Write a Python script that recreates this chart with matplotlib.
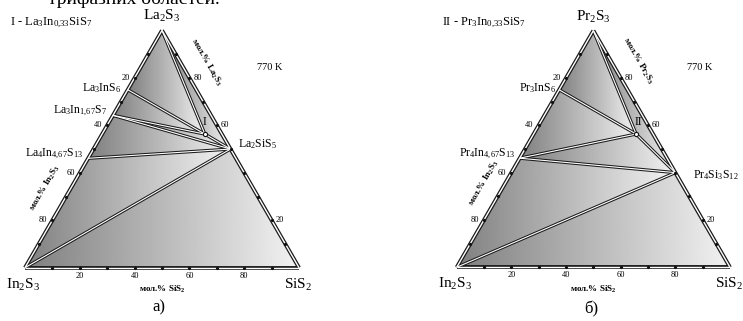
import numpy as np
import matplotlib
matplotlib.use("Agg")
import matplotlib.pyplot as plt
from matplotlib.patches import Polygon

plt.rcParams['font.family'] = ['Liberation Serif', 'DejaVu Serif']
plt.rcParams['mathtext.fontset'] = 'custom'
plt.rcParams['mathtext.rm'] = 'Liberation Serif'
plt.rcParams['mathtext.it'] = 'Liberation Serif'
plt.rcParams['mathtext.bf'] = 'Liberation Serif:bold'

# ---------- DATA (mol.%: In2S3, SiS2, R2S3) ----------
names_a = ['In$_2$S$_3$', 'SiS$_2$', 'La$_2$S$_3$', 'La$_3$InS$_6$',
           'La$_3$In$_{1{,}67}$S$_7$', 'La$_4$In$_{4{,}67}$S$_{13}$',
           'La$_2$SiS$_5$', 'I']
in2s3_a = [100, 0, 0, 25, 35.8, 53.9, 0, 6.2]
sis2_a = [0, 100, 0, 0, 0, 0, 50, 37.5]
r2s3_a = [0, 0, 100, 75, 64.2, 46.1, 50, 56.3]
ties_a = [(2, 7), (7, 6), (3, 7), (4, 7), (4, 6), (5, 6), (0, 6)]
regions_a = [(2, 3, 7), (2, 7, 6), (3, 4, 7), (4, 7, 6), (4, 5, 6), (5, 0, 6), (0, 6, 1)]

names_b = ['In$_2$S$_3$', 'SiS$_2$', 'Pr$_2$S$_3$', 'Pr$_3$InS$_6$',
           'Pr$_4$In$_{4{,}67}$S$_{13}$', 'Pr$_4$Si$_3$S$_{12}$', 'II']
in2s3_b = [100, 0, 0, 25, 53.9, 0, 6.2]
sis2_b = [0, 100, 0, 0, 0, 60, 37.5]
r2s3_b = [0, 0, 100, 75, 46.1, 40, 56.3]
ties_b = [(2, 6), (3, 6), (4, 6), (6, 5), (4, 5), (0, 5)]
regions_b = [(2, 3, 6), (2, 6, 5), (3, 4, 6), (4, 6, 5), (4, 0, 5), (0, 5, 1)]

bottom_ticks = [20, 40, 60, 80]
left_ticks = [20, 40, 60, 80]
right_ticks = [80, 60, 20]

fig = plt.figure(figsize=(7.43, 3.21), dpi=100)
ax = fig.add_axes([0, 0, 1, 1])


def make_tern(x0, y0, side):
    h = side * np.sqrt(3) / 2

    def tern(i, s, r):
        return x0 + (s + 0.5 * r) / 100 * side, y0 - r / 100 * h
    return tern


def double_line(p, q, lw=2.3, inner=0.8):
    ax.plot([p[0], q[0]], [p[1], q[1]], color='#1a1a1a', lw=lw,
            solid_capstyle='butt', zorder=4)
    ax.plot([p[0], q[0]], [p[1], q[1]], color='white', lw=inner,
            solid_capstyle='butt', zorder=5)


def draw_panel(tern, names, ins, sis, rs, ties, regions, label_off, tag,
               title, title_xy, temp_xy, sub_xy, ax_in_xy, ax_r_xy, rname):
    pts = [tern(i, s, r) for i, s, r in zip(ins, sis, rs)]

    # shaded phase fields, horizontal gradient in each one
    for reg in regions:
        poly = [pts[k] for k in reg]
        xs = [p[0] for p in poly]
        ys = [p[1] for p in poly]
        patch = Polygon(poly, closed=True, facecolor='none', edgecolor='none')
        ax.add_patch(patch)
        grad = np.linspace(0.5, 0.95, 256)[None, :]
        im = ax.imshow(grad, extent=[min(xs), max(xs), max(ys), min(ys)],
                       cmap='gray', vmin=0, vmax=1, aspect='auto',
                       interpolation='bilinear', zorder=1)
        im.set_clip_path(patch)

    for a, b in ties:
        double_line(pts[a], pts[b])

    corners = [pts[0], pts[1], pts[2], pts[0]]
    for p, q in zip(corners[:-1], corners[1:]):
        double_line(p, q, lw=2.8, inner=1.0)

    # edge ticks
    for t in range(10, 100, 10):
        for p in [tern(100 - t, t, 0), tern(t, 0, 100 - t), tern(0, 100 - t, t)]:
            ax.plot(p[0], p[1], 'o', ms=1.3, color='#111111', zorder=6)

    for t in bottom_ticks:
        x, y = tern(100 - t, t, 0)
        ax.text(x, y + 8, str(t), fontsize=6, ha='center', va='center')
    for t in left_ticks:
        x, y = tern(t, 0, 100 - t)
        ax.text(x - 5, y, str(t), fontsize=6, ha='right', va='center')
    for t in right_ticks:
        x, y = tern(0, 100 - t, t)
        ax.text(x + 4, y, str(t), fontsize=6, ha='left', va='center')

    # corner labels
    ax.text(pts[0][0] - 2, pts[0][1] + 17, names[0], fontsize=11, ha='center', va='center')
    ax.text(pts[1][0] - 1, pts[1][1] + 17, names[1], fontsize=11, ha='center', va='center')
    ax.text(pts[2][0], pts[2][1] - 14, names[2], fontsize=11, ha='center', va='center')

    # compound labels
    for k, (dx, dy, ha) in label_off.items():
        ax.text(pts[k][0] + dx, pts[k][1] + dy, names[k], fontsize=8.5,
                ha=ha, va='center')

    # invariant point marker
    ip = pts[-1]
    ax.plot(ip[0], ip[1], 'o', ms=3, mfc='white', mec='#111111', mew=0.8, zorder=7)

    ax.text(title_xy[0], title_xy[1], title, fontsize=9, ha='left', va='center')
    ax.text(temp_xy[0], temp_xy[1], '770 K', fontsize=7.5, ha='center', va='center')
    ax.text(sub_xy[0], sub_xy[1], tag, fontsize=12, ha='center', va='center')

    mid = (pts[0][0] + pts[1][0]) / 2
    ax.text(mid, pts[0][1] + 22, r'мол.% SiS$_\mathbf{2}$', fontsize=6.5,
            fontweight='heavy', ha='center', va='center')
    ax.text(ax_in_xy[0], ax_in_xy[1], r'мол.% In$_\mathbf{2}$S$_\mathbf{3}$',
            fontsize=6.5, fontweight='heavy', rotation=60, ha='center', va='center')
    ax.text(ax_r_xy[0], ax_r_xy[1], r'мол.% ' + rname, fontsize=6.5,
            fontweight='heavy', rotation=-60, ha='center', va='center')


tern_a = make_tern(25, 267.7, 274)
tern_b = make_tern(456.7, 267.3, 273.3)

draw_panel(tern_a, names_a, in2s3_a, sis2_a, r2s3_a, ties_a, regions_a,
           {3: (-7, -1.5, 'right'), 4: (-6, -4, 'right'), 5: (-5, -4, 'right'),
            6: (8, -5, 'left'), 7: (0, -12, 'center')},
           'а)', 'I - La$_3$In$_{0{,}33}$SiS$_7$', (10, 23), (270, 68), (159, 307),
           (45, 188), (206, 62), r'La$_\mathbf{2}$S$_\mathbf{3}$')

draw_panel(tern_b, names_b, in2s3_b, sis2_b, r2s3_b, ties_b, regions_b,
           {3: (-3, -2, 'right'), 4: (-5, -4, 'right'), 5: (18, 2, 'left'),
            6: (2, -12, 'center')},
           'б)', 'II - Pr$_3$In$_{0{,}33}$SiS$_7$', (442, 23), (700, 68), (591, 309),
           (484, 183), (638, 61), r'Pr$_\mathbf{2}$S$_\mathbf{3}$')

# cut-off line of text from the page above
ax.text(48, 4, 'трифазних областей.', fontsize=14, ha='left', va='baseline')

ax.set_xlim(0, 743)
ax.set_ylim(321, 0)
ax.axis('off')
fig.savefig('out.png', dpi=100)
